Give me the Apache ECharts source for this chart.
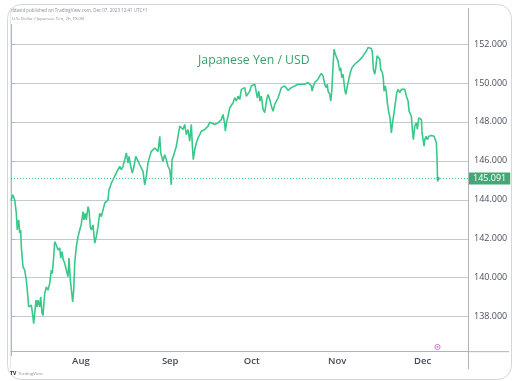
<!DOCTYPE html>
<html>
<head>
<meta charset="utf-8">
<script src="https://cdn.jsdelivr.net/npm/echarts@6/dist/echarts.min.js"></script>
<style>
html,body{margin:0;padding:0;background:#fff;}
#chart{width:521px;height:381px;}
</style>
</head>
<body>
<div id="chart"></div>
<script>
// Trading-day index (0 = Jul 6 2023, 110 = Dec 7 2023)
const tradingDay = [
0.00,0.44,0.95,1.37,1.62,1.98,2.24,2.50,2.65,3.09,3.53,3.94,4.20,4.56,4.82,5.07,5.23,5.49,5.85,6.11,
6.44,6.70,6.96,7.39,7.65,7.99,8.24,8.68,9.09,9.53,9.97,10.38,10.64,11.00,11.26,11.67,12.11,12.55,12.80,13.14,
13.47,13.83,14.25,14.68,14.94,15.28,15.71,15.89,16.15,16.41,16.82,17.26,17.70,18.11,18.55,18.80,19.14,19.40,19.84,20.09,
20.43,20.69,21.12,21.56,21.97,22.41,22.85,23.26,23.70,24.14,24.55,24.99,25.24,25.58,25.84,26.28,26.71,27.13,27.56,28.00,
28.41,28.85,29.29,29.70,30.14,30.40,30.83,31.25,31.68,32.12,32.53,33.15,33.57,34.00,34.44,34.85,35.29,35.73,36.14,36.58,
37.02,37.43,37.87,38.31,38.56,38.90,39.16,39.59,40.01,40.44,40.88,41.29,41.47,41.81,42.17,42.58,43.02,43.46,43.87,44.31,
44.74,45.16,45.59,46.03,46.45,46.71,46.96,47.32,47.73,48.17,48.61,49.02,49.46,49.90,50.31,50.75,51.19,51.60,52.48,53.32,
53.76,54.17,54.61,55.05,55.20,55.56,55.90,56.34,56.75,57.19,57.63,58.04,58.48,58.91,59.33,59.76,60.20,60.61,61.05,61.49,
61.90,62.34,62.78,63.19,63.45,63.81,64.14,64.48,64.92,65.35,65.77,66.20,66.64,67.05,67.49,67.93,68.34,68.78,69.22,69.63,
70.07,70.50,70.92,71.35,72.20,73.08,73.49,73.93,74.37,74.78,75.22,75.66,76.07,76.51,76.94,77.36,77.54,77.87,78.23,78.65,
79.08,79.52,79.93,80.37,80.81,81.22,81.48,81.66,82.10,82.35,82.61,82.87,83.20,83.54,83.90,84.23,84.67,84.93,85.19,85.52,
85.96,86.22,86.55,86.99,87.40,87.84,88.28,88.54,88.95,89.39,89.83,90.24,90.67,91.11,91.53,91.96,92.40,92.81,93.07,93.33,
93.69,93.95,94.28,94.72,94.98,95.23,95.39,95.65,95.90,96.08,96.42,96.68,96.93,97.30,97.55,97.81,97.96,98.32,98.66,98.99,
99.36,99.69,100.13,100.54,100.98,101.42,101.83,102.27,102.52,102.86,103.12,103.37,103.63,103.99,104.40,104.66,105.02,105.36,105.69,105.87,
106.13,106.39,106.57,106.90,107.24,107.60,107.93,108.27,108.63,108.96,109.30,109.56,109.74,109.87,110.00
];
// USD/JPY close
const usdJpy = [
143.95,144.26,144.00,143.31,142.45,142.97,142.30,142.45,141.59,140.56,140.39,139.88,139.36,138.50,138.59,138.43,138.59,138.24,137.64,138.18,
138.85,138.50,138.85,138.50,139.02,138.18,138.07,139.19,139.53,139.36,139.71,140.39,140.22,141.08,141.85,141.68,141.42,141.53,141.01,141.34,
140.91,140.75,140.39,140.05,141.01,139.88,139.10,138.76,139.36,140.75,141.59,142.11,142.45,142.75,143.40,142.97,143.31,142.97,143.65,143.48,
142.62,142.45,142.71,141.77,142.11,142.62,143.31,143.14,143.48,143.83,143.74,144.00,144.52,144.69,144.86,145.03,144.94,145.38,145.55,145.72,
145.55,145.72,146.06,146.41,145.89,146.23,145.72,145.38,145.72,146.23,146.06,145.80,145.72,145.46,144.77,145.20,145.89,146.23,146.49,146.58,
146.66,146.58,146.49,147.26,146.41,146.49,145.97,146.32,146.06,145.72,145.55,144.77,146.06,146.23,146.23,146.75,147.26,147.78,147.78,147.61,
147.87,147.35,147.61,147.01,147.87,146.75,146.06,146.58,146.92,147.18,147.35,147.52,147.44,147.61,147.70,147.78,147.98,147.95,147.87,147.95,
147.87,148.12,148.38,147.87,147.52,148.04,148.29,148.73,148.64,148.98,149.24,149.07,149.32,149.15,149.67,149.58,149.76,149.32,149.24,149.58,
149.84,149.89,149.93,149.96,149.24,149.58,149.07,149.32,148.64,148.47,149.07,149.41,149.15,148.81,148.55,148.90,148.81,149.24,149.50,149.76,
149.84,149.84,149.76,149.62,149.76,149.84,149.76,149.93,149.84,149.93,149.84,149.93,149.96,150.02,149.93,149.84,149.58,149.84,150.02,150.10,
150.19,150.36,150.49,150.36,149.93,149.76,149.93,149.58,149.41,149.07,149.58,150.61,151.73,151.47,151.30,151.12,150.61,150.78,150.27,150.44,
149.67,149.41,149.76,150.19,150.53,150.79,150.70,150.96,151.05,151.11,151.17,151.27,151.39,151.47,151.64,151.82,151.73,151.77,151.56,150.70,
150.45,150.79,151.39,151.39,151.22,150.70,150.79,150.53,150.19,149.58,149.84,149.50,148.98,148.47,148.29,147.78,147.44,148.04,148.47,148.98,
149.50,149.67,149.50,149.67,149.58,149.67,149.32,149.07,148.55,148.64,148.29,147.61,147.09,147.78,147.95,147.61,148.21,148.29,148.12,147.44,
147.09,146.75,147.09,147.26,147.09,147.26,147.18,147.30,147.35,147.26,147.18,146.92,146.06,144.94,145.091
];
const lastPrice = 145.091;
const monthLabels = ['Aug', 'Sep', 'Oct', 'Nov', 'Dec'];
const monthStartDay = [18, 41, 62, 84, 106];
const titleText = 'Japanese Yen / USD';
const publishText = 'ddavid published on TradingView.com, Dec 07, 2023 12:41 UTC+1';
const symbolText = 'U.S. Dollar / Japanese Yen, 2h, FXCM';

const seriesData = tradingDay.map((d, i) => [d, usdJpy[i]]);
const lastPoint = [tradingDay[tradingDay.length - 1], lastPrice];

const chart = echarts.init(document.getElementById('chart'), null, {renderer: 'canvas'});
const green = '#38c98a';
const gridColor = '#c5cad2';
const axisColor = '#aeb4bd';

chart.setOption({
  animation: false,
  backgroundColor: '#ffffff',
  title: {
    text: titleText,
    left: 198, top: 54, padding: 0,
    textStyle: {color: '#3aa16c', fontSize: 12.3, fontWeight: 'normal', fontFamily: 'Open Sans'}
  },
  grid: {left: 11, right: 53, top: 24.5, bottom: 25.34, containLabel: false},
  xAxis: {
    type: 'value', min: 0, max: 117.7, interval: 1,
    offset: -4,
    axisLine: {show: true, lineStyle: {color: axisColor, width: 1}},
    axisTick: {show: false},
    splitLine: {show: false},
    axisLabel: {
      showMaxLabel: false,
      margin: 5,
      color: '#434a58', fontSize: 9.5, fontWeight: 600, fontFamily: 'Open Sans',
      formatter: function (v) {
        const k = monthStartDay.indexOf(Math.round(v));
        return (k >= 0 && Math.abs(v - Math.round(v)) < 1e-6) ? monthLabels[k] : '';
      }
    }
  },
  yAxis: {
    type: 'value', position: 'right', min: 136, max: 153, interval: 2,
    axisLine: {show: true, lineStyle: {color: axisColor, width: 1}},
    axisTick: {show: true, length: 4, lineStyle: {color: axisColor}},
    splitLine: {show: true, showMinLine: false, showMaxLine: false, lineStyle: {color: gridColor, width: 1}},
    axisLabel: {
      showMinLabel: false, showMaxLabel: false,
      margin: 6, color: '#4a4f5c', fontSize: 9, fontFamily: 'Open Sans',
      formatter: v => v.toFixed(3)
    }
  },
  series: [
    {
      type: 'line',
      data: seriesData,
      showSymbol: false,
      symbol: 'none',
      lineStyle: {color: green, width: 1.6},
      z: 3,
      markLine: {
        silent: true,
        symbol: 'none',
        lineStyle: {color: green, type: [1, 2], width: 1},
        label: {
          show: true, position: 'end', distance: 1,
          formatter: () => lastPrice.toFixed(3),
          color: '#ffffff', backgroundColor: '#45a776',
          padding: [2, 4, 1, 4], fontSize: 9, fontFamily: 'Open Sans'
        },
        data: [{yAxis: lastPrice}]
      }
    },
    {
      type: 'scatter',
      data: [lastPoint],
      symbolSize: 3.5,
      itemStyle: {color: '#2fae76'},
      z: 4
    }
  ],
  graphic: [
    {type: 'rect', shape: {x: 7.5, y: 4.5, width: 504, height: 375, r: 14}, style: {fill: 'none', stroke: '#d3d7dc', lineWidth: 1}, silent: true},
    {type: 'line', shape: {x1: 10.5, y1: 8, x2: 10.5, y2: 368}, style: {stroke: '#e4e7eb', lineWidth: 1}, silent: true},
    {type: 'line', shape: {x1: 468.5, y1: 8, x2: 468.5, y2: 369}, style: {stroke: axisColor, lineWidth: 1}, silent: true},
    {type: 'line', shape: {x1: 468, y1: 351.66, x2: 509, y2: 351.66}, style: {stroke: axisColor, lineWidth: 1}, silent: true},
    {type: 'text', left: 11, top: 8, style: {text: publishText, fontSize: 4.5, fill: '#8a8f99', fontFamily: 'Open Sans'}},
    {type: 'text', left: 12, top: 17, style: {text: symbolText, fontSize: 4.3, fill: '#8a8f99', fontFamily: 'Open Sans'}},
    {type: 'text', left: 10, top: 371, style: {text: 'TV', fontSize: 5, fontWeight: 'bold', fill: '#131722', fontFamily: 'Open Sans'}},
    {type: 'text', left: 18, top: 371.5, style: {text: 'TradingView', fontSize: 4.3, fill: '#8a8f99', fontFamily: 'Open Sans'}},
    {type: 'circle', shape: {cx: 437.5, cy: 347, r: 2.6}, style: {fill: '#fff', stroke: '#c47ad6', lineWidth: 1}, silent: true},
    {type: 'circle', shape: {cx: 437.5, cy: 347, r: 0.9}, style: {fill: '#c47ad6'}, silent: true}
  ]
});
</script>
</body>
</html>
